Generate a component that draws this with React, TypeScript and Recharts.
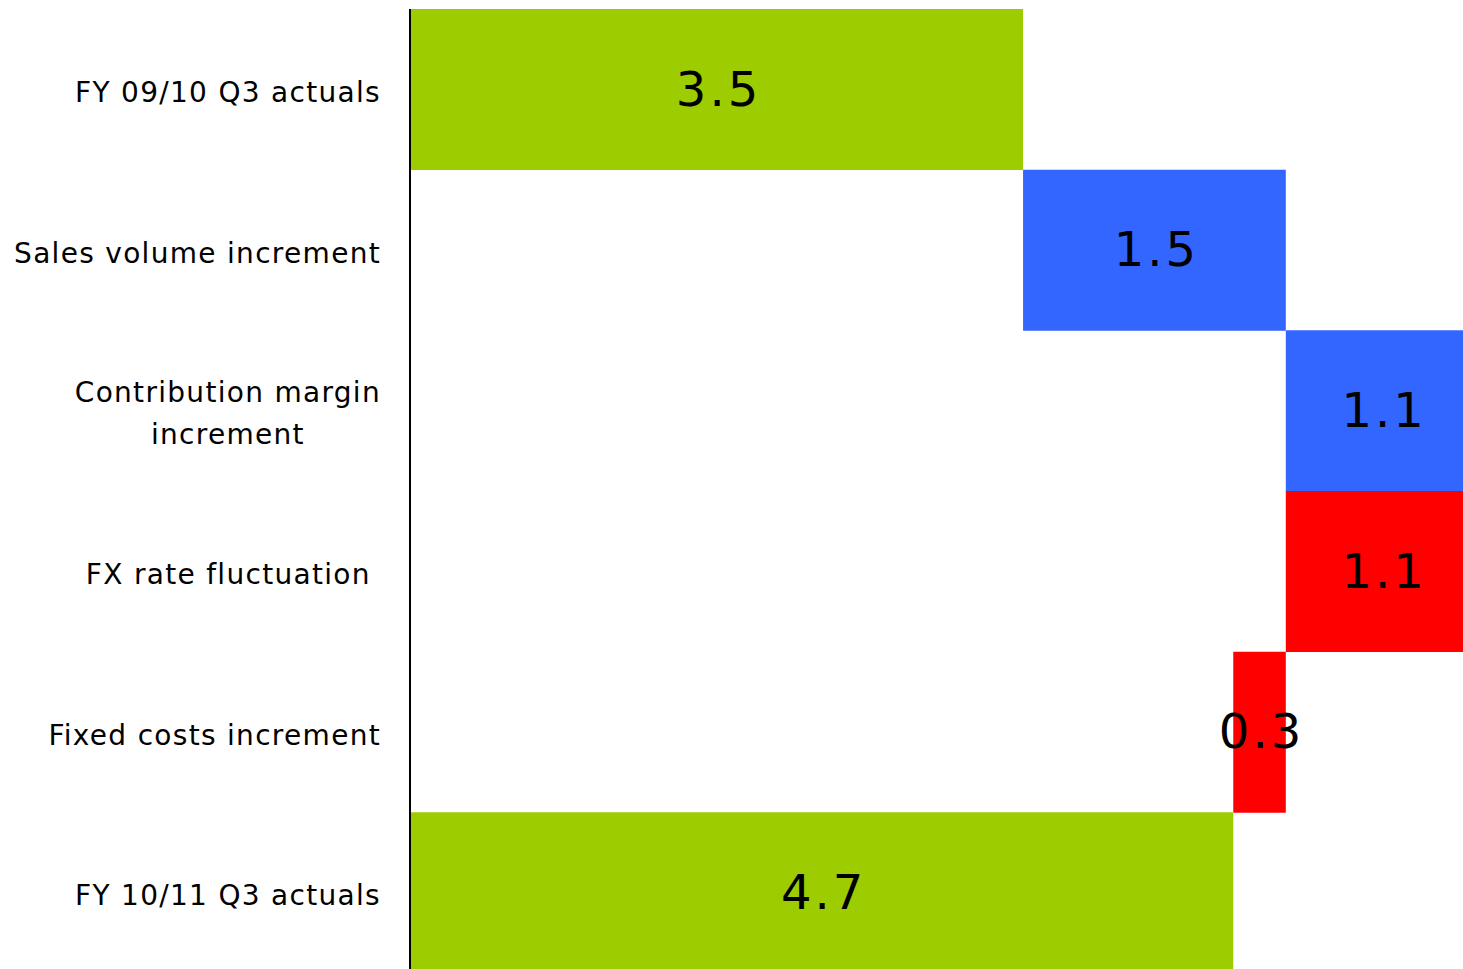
import React from 'react';
import { BarChart, Bar, XAxis, YAxis, Cell, LabelList } from 'recharts';

const categories = [
  'FY 09/10 Q3 actuals',
  'Sales volume increment',
  'Contribution margin\nincrement',
  'FX rate fluctuation ',
  'Fixed costs increment',
  'FY 10/11 Q3 actuals',
];
const amounts = [3.5, 1.5, 1.1, 1.1, 0.3, 4.7];
const kinds = ['total', 'up', 'up', 'down', 'down', 'total'];
const xDomain = [0, 6.2];

const KIND_COLORS: Record<string, string> = {
  total: '#9DCC00',
  up: '#3366FF',
  down: '#FF0000',
};

const FONT = '"DejaVu Sans", sans-serif';
const TICK_SIZE = 28;
const TICK_LS = 1.3;

let running = 0;
const data = categories.map((name, i) => {
  const amount = amounts[i];
  const kind = kinds[i];
  let base = 0;
  if (kind === 'total') {
    base = 0;
    running = amount;
  } else if (kind === 'up') {
    base = running;
    running += amount;
  } else {
    running -= amount;
    base = running;
  }
  return { name, base, amount, kind };
});

let ctx: CanvasRenderingContext2D | null = null;
function measure(text: string): number {
  if (!ctx && typeof document !== 'undefined') {
    ctx = document.createElement('canvas').getContext('2d');
  }
  if (!ctx) return text.length * TICK_SIZE * 0.55;
  ctx.font = `${TICK_SIZE}px "DejaVu Sans"`;
  return ctx.measureText(text).width + text.length * TICK_LS;
}

const CategoryTick = (props: any) => {
  const { x, y, payload } = props;
  const lines = String(payload.value).split('\n');
  const common = {
    fontFamily: FONT,
    fontSize: TICK_SIZE,
    letterSpacing: TICK_LS,
    fill: '#000',
    style: { whiteSpace: 'pre' as const },
    xmlSpace: 'preserve',
  };
  if (lines.length === 1) {
    return (
      <text {...common} x={x} y={y} dy={3} textAnchor="end" dominantBaseline="central">
        {lines[0]}
      </text>
    );
  }
  const maxW = Math.max(...lines.map(measure));
  const cx = x - maxW / 2;
  const lh = 42;
  const startY = y + 3 - ((lines.length - 1) * lh) / 2;
  return (
    <g>
      {lines.map((l, i) => (
        <text
          key={i}
          {...common}
          x={cx}
          y={startY + i * lh}
          textAnchor="middle"
          dominantBaseline="central"
        >
          {l}
        </text>
      ))}
    </g>
  );
};

const ValueLabel = (props: any) => {
  const { x, y, width, height, value } = props;
  return (
    <text
      x={x + width / 2 + 2}
      y={y + height / 2 - 1}
      textAnchor="middle"
      dominantBaseline="central"
      fontFamily={FONT}
      fontSize={48}
      letterSpacing={3}
      fill="#000"
    >
      {Number(value).toFixed(1)}
    </text>
  );
};

export default function App() {
  return (
    <div style={{ overflow: 'visible' }}>
      <style>{`html{overflow:hidden} body{margin-right:0 !important; overflow:visible !important} #root{overflow:visible !important}`}</style>
      <BarChart
        width={1488}
        height={965}
        data={data}
        layout="vertical"
        margin={{ top: 1, right: 0, bottom: 0, left: 0 }}
        barCategoryGap={0}
        style={{ overflow: 'visible' }}
      >
        <XAxis type="number" hide domain={xDomain} />
        <YAxis
          type="category"
          dataKey="name"
          width={402}
          tickLine={false}
          tickSize={0}
          tickMargin={29}
          axisLine={{ stroke: '#000', strokeWidth: 2 }}
          tick={<CategoryTick />}
          interval={0}
        />
        <Bar dataKey="base" stackId="w" fill="transparent" isAnimationActive={false} />
        <Bar dataKey="amount" stackId="w" isAnimationActive={false}>
          {data.map((d, i) => (
            <Cell key={i} fill={KIND_COLORS[d.kind]} />
          ))}
          <LabelList dataKey="amount" position="center" content={<ValueLabel />} />
        </Bar>
      </BarChart>
    </div>
  );
}
